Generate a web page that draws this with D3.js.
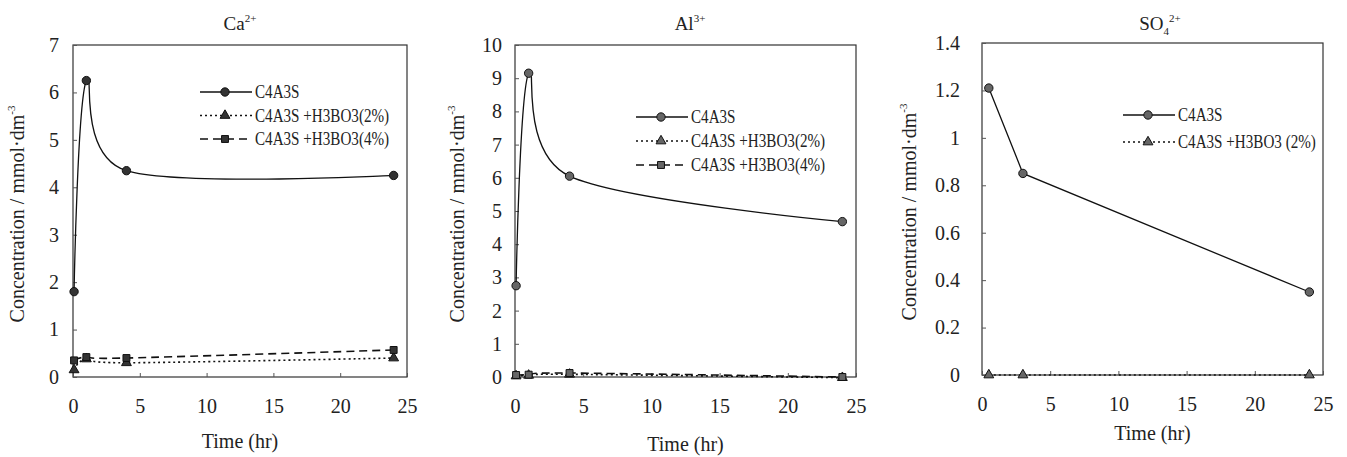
<!DOCTYPE html>
<html lang="en">
<head>
    <meta charset="UTF-8">
    <title>Ion concentration vs time</title>
    <script src="https://d3js.org/d3.v7.min.js"></script>
    <style>
        body { margin: 0; background: #fff; }
        svg text { font-family: "Times New Roman", "Liberation Serif", "DejaVu Serif", serif; fill: #222; }
        .frame { fill: none; stroke: #333; stroke-width: 1.2; }
    </style>
</head>
<body>
    <svg id="chart" width="1347" height="457"></svg>
    <script>
        // values
        const xTicks = [0, 5, 10, 15, 20, 25];
        const seriesNames = ["C4A3S", "C4A3S +H3BO3(2%)", "C4A3S +H3BO3(4%)"];
        const so4Names = ["C4A3S", "C4A3S +H3BO3 (2%)"];

        const caTime = [0.08, 1, 4, 24];
        const caC4A3S = [1.8, 6.25, 4.35, 4.25];
        const caBoric2 = [0.15, 0.38, 0.3, 0.4];
        const caBoric4 = [0.35, 0.42, 0.4, 0.57];
        const caYTicks = [0, 1, 2, 3, 4, 5, 6, 7];

        const alTime = [0.08, 1, 4, 24];
        const alC4A3S = [2.75, 9.15, 6.05, 4.68];
        const alBoric2 = [0.03, 0.05, 0.08, -0.02];
        const alBoric4 = [0.06, 0.07, 0.12, 0.0];
        const alYTicks = [0, 1, 2, 3, 4, 5, 6, 7, 8, 9, 10];

        const so4Time = [0.5, 3, 24];
        const so4C4A3S = [1.21, 0.85, 0.35];
        const so4Boric2 = [0, 0, 0];
        const so4YTicks = [0, 0.2, 0.4, 0.6, 0.8, 1, 1.2, 1.4];

        const svg = d3.select("#chart");
        const serif = "'Times New Roman', 'Liberation Serif', 'DejaVu Serif', serif";

        const symbols = [d3.symbolCircle, d3.symbolTriangle, d3.symbolSquare];
        const symSizes = [55, 42, 48];
        const dashes = [null, "2,3", "8,5"];

        function squeeze(t, k) {
            const w = t.node().getComputedTextLength();
            t.attr("textLength", w * k).attr("lengthAdjust", "spacingAndGlyphs");
        }

        function drawPanel(p) {
            const x = d3.scaleLinear().domain([0, 25]).range([p.left, p.right]);
            const y = d3.scaleLinear().domain([0, p.yMax]).range([p.bottom, p.top]);
            const g = svg.append("g");

            // frame
            g.append("rect").attr("class", "frame")
                .attr("x", p.left).attr("y", p.top)
                .attr("width", p.right - p.left).attr("height", p.bottom - p.top);

            // axes, ticks pointing inward
            const ax = g.append("g").attr("transform", `translate(0,${p.bottom})`)
                .call(d3.axisBottom(x).tickValues(xTicks).tickSizeInner(-4).tickSizeOuter(0).tickPadding(22));
            const ay = g.append("g").attr("transform", `translate(${p.left},0)`)
                .call(d3.axisLeft(y).tickValues(p.yTicks).tickSizeInner(-4).tickSizeOuter(0).tickPadding(p.yPad)
                    .tickFormat(d3.format("~g")));
            [ax, ay].forEach(a => {
                a.attr("font-family", serif);
                a.select(".domain").remove();
                a.selectAll("line").attr("stroke", "#555");
                a.selectAll("text").attr("font-size", 20).attr("fill", "#222");
            });

            // series
            const curve = p.smooth ? d3.curveCardinal.tension(0) : d3.curveLinear;
            p.series.forEach((vals, i) => {
                const pts = vals.map((v, j) => [p.time[j], v]);
                const line = d3.line().x(d => x(d[0])).y(d => y(d[1])).curve(curve);
                g.append("path").attr("d", line(pts))
                    .attr("fill", "none").attr("stroke", "#111").attr("stroke-width", i === 0 ? 1.3 : 1.6)
                    .attr("stroke-dasharray", dashes[i]);
                g.selectAll(null).data(pts).enter().append("path")
                    .attr("d", d3.symbol().type(symbols[i]).size(symSizes[i]))
                    .attr("transform", d => `translate(${x(d[0])},${y(d[1])})`)
                    .attr("fill", p.markFill).attr("stroke", "#111").attr("stroke-width", 1);
            });

            // legend
            p.names.forEach((name, i) => {
                const ly = p.legY + i * p.legStep;
                g.append("line").attr("x1", p.legX).attr("x2", p.legX + 52)
                    .attr("y1", ly).attr("y2", ly)
                    .attr("stroke", "#111").attr("stroke-width", i === 0 ? 1.3 : 1.6)
                    .attr("stroke-dasharray", dashes[i]);
                g.append("path").attr("d", d3.symbol().type(symbols[i]).size(symSizes[i]))
                    .attr("transform", `translate(${p.legX + 25},${ly})`)
                    .attr("fill", p.markFill).attr("stroke", "#111");
                const t = g.append("text").attr("x", p.legX + 55).attr("y", ly + 6)
                    .attr("font-size", 18).text(name);
                squeeze(t, 0.84);
            });

            // title
            const tt = g.append("text").attr("x", p.titleX).attr("y", 30)
                .attr("text-anchor", "middle").attr("font-size", 19);
            p.title(tt);

            // axis titles
            g.append("text").attr("x", (p.left + p.right) / 2).attr("y", p.xLabY)
                .attr("text-anchor", "middle").attr("font-size", 20).text("Time  (hr)");
            const yl = g.append("text")
                .attr("transform", `translate(${p.yLabX},${(p.top + p.bottom) / 2 + 3}) rotate(-90)`)
                .attr("text-anchor", "middle").attr("font-size", 20);
            yl.append("tspan").text("Concentration / mmol\u00b7dm");
            yl.append("tspan").attr("font-size", 11).attr("dy", -9).text("-3");
        }

        drawPanel({
            left: 73, right: 407, top: 45, bottom: 377, yMax: 7, yTicks: caYTicks, yPad: 14,
            time: caTime, series: [caC4A3S, caBoric2, caBoric4], names: seriesNames, smooth: true,
            markFill: "#333", legX: 200, legY: 92, legStep: 23.5, titleX: 240, xLabY: 448, yLabX: 24,
            title: t => { t.append("tspan").text("Ca"); t.append("tspan").attr("font-size", 11).attr("dy", -8).text("2+"); }
        });
        drawPanel({
            left: 515, right: 856, top: 45, bottom: 377, yMax: 10, yTicks: alYTicks, yPad: 13,
            time: alTime, series: [alC4A3S, alBoric2, alBoric4], names: seriesNames, smooth: true,
            markFill: "#666", legX: 636, legY: 117, legStep: 24, titleX: 690, xLabY: 451, yLabX: 464,
            title: t => { t.append("tspan").text("Al"); t.append("tspan").attr("font-size", 11).attr("dy", -8).text("3+"); }
        });
        drawPanel({
            left: 982, right: 1323, top: 43, bottom: 375, yMax: 1.4, yTicks: so4YTicks, yPad: 22,
            time: so4Time, series: [so4C4A3S, so4Boric2], names: so4Names, smooth: false,
            markFill: "#666", legX: 1123, legY: 115, legStep: 27, titleX: 1160, xLabY: 440, yLabX: 916,
            title: t => {
                t.append("tspan").text("SO");
                t.append("tspan").attr("font-size", 11).attr("dy", 5).text("4");
                t.append("tspan").attr("font-size", 11).attr("dy", -13).text("2+");
            }
        });
    </script>
</body>
</html>
